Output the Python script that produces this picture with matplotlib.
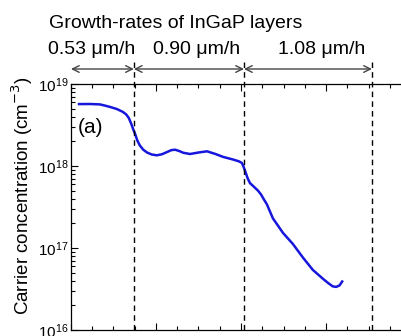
import numpy as np
import matplotlib.pyplot as plt
from matplotlib.ticker import MultipleLocator, LogLocator, NullFormatter
import matplotlib.transforms as mtransforms

plt.rcParams['font.family'] = ['Liberation Sans', 'DejaVu Sans']

# depth (um) and carrier concentration (cm^-3)
depth = [0.019, 0.045, 0.068, 0.080, 0.092, 0.108, 0.122, 0.130, 0.136, 0.142,
         0.147, 0.151, 0.156, 0.162, 0.170, 0.179, 0.190, 0.202, 0.214, 0.226,
         0.236, 0.245, 0.255, 0.264, 0.280, 0.300, 0.320, 0.340, 0.358, 0.381,
         0.395, 0.402, 0.406, 0.411, 0.416, 0.421, 0.430, 0.440, 0.447, 0.454,
         0.461, 0.475, 0.499, 0.522, 0.546, 0.569, 0.593, 0.606, 0.616, 0.624,
         0.632, 0.638]
conc = [5.69e18, 5.70e18, 5.64e18, 5.45e18, 5.25e18, 4.95e18, 4.57e18, 4.25e18, 3.85e18, 3.25e18,
        2.75e18, 2.45e18, 2.05e18, 1.78e18, 1.58e18, 1.46e18, 1.38e18, 1.35e18, 1.39e18, 1.48e18,
        1.56e18, 1.58e18, 1.52e18, 1.45e18, 1.40e18, 1.46e18, 1.51e18, 1.40e18, 1.29e18, 1.20e18,
        1.14e18, 1.09e18, 9.8e17, 8.3e17, 7.0e17, 6.2e17, 5.6e17, 5.0e17, 4.5e17, 3.9e17,
        3.4e17, 2.3e17, 1.52e17, 1.12e17, 7.6e16, 5.4e16, 4.2e16, 3.7e16, 3.4e16, 3.35e16,
        3.5e16, 3.9e16]

# layer boundaries and growth rates
boundaries = [0.0, 0.148, 0.407, 0.708]
rate_labels = ['0.53 μm/h', '0.90 μm/h', '1.08 μm/h']
rate_label_x = [0.049, 0.296, 0.590]

fig = plt.figure(figsize=(4.01, 3.36), dpi=100)
ax = fig.add_axes([0.177, 0.018, 0.848, 0.732])

ax.plot(depth, conc, color='#1616dc', lw=1.8, solid_joinstyle='round')
ax.set_yscale('log')
ax.set_ylim(1e16, 1e19)
ax.set_xlim(0, 0.8)

ax.xaxis.set_major_locator(MultipleLocator(0.2))
ax.xaxis.set_minor_locator(MultipleLocator(0.05))
ax.xaxis.set_major_formatter(NullFormatter())
ax.yaxis.set_major_locator(LogLocator(base=10, numticks=10))
ax.yaxis.set_minor_locator(LogLocator(base=10, subs=np.arange(2, 10), numticks=10))
ax.yaxis.set_minor_formatter(NullFormatter())
ax.tick_params(which='both', direction='in', top=True, right=True, labelsize=11, width=0.8, pad=2)
ax.tick_params(which='major', length=5)
ax.tick_params(which='minor', length=3)
for s in ax.spines.values():
    s.set_linewidth(0.9)

ax.set_ylabel('Carrier concentration (cm$^{-3}$)', fontsize=13.5)
ax.yaxis.set_label_coords(-0.105, 0.547)

trans = mtransforms.blended_transform_factory(ax.transData, ax.transAxes)

# dashed boundaries running above the axes
for b in boundaries[1:]:
    ax.plot([b, b], [0, 1.089], transform=trans, color='black', lw=1,
            ls=(0, (4, 3)), clip_on=False)

# arrows for each layer
for i in range(3):
    ax.annotate('', xy=(boundaries[i + 1], 1.061), xytext=(boundaries[i], 1.061),
                xycoords=trans, textcoords=trans,
                arrowprops=dict(arrowstyle='<->', color='#444444', lw=1,
                                shrinkA=0, shrinkB=0, mutation_scale=12))
    ax.text(rate_label_x[i], 1.122, rate_labels[i], transform=trans,
            ha='center', va='baseline', fontsize=14)

ax.text(0.247, 1.228, 'Growth-rates of InGaP layers', transform=trans,
        ha='center', va='baseline', fontsize=14)

ax.text(0.016, 2.95e18, '(a)', ha='left', va='center', fontsize=15)

plt.savefig('out.png', dpi=100)
